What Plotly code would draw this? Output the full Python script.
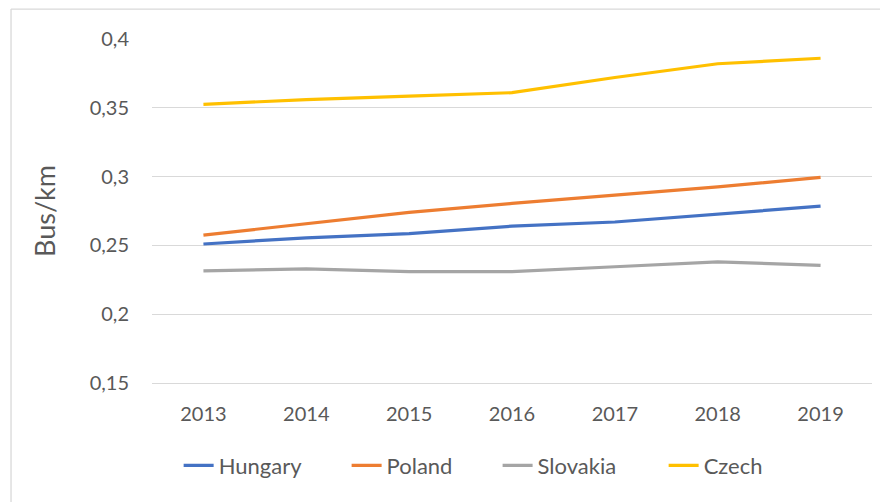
import plotly.graph_objects as go

years = ["2013", "2014", "2015", "2016", "2017", "2018", "2019"]
hungary = [0.251, 0.2555, 0.2585, 0.264, 0.267, 0.2725, 0.2785]
poland = [0.2575, 0.2655, 0.274, 0.2805, 0.2865, 0.2925, 0.2995]
slovakia = [0.2315, 0.233, 0.231, 0.231, 0.2345, 0.238, 0.2355]
czech = [0.3525, 0.356, 0.3585, 0.361, 0.372, 0.382, 0.386]

series = [
    ("Hungary", hungary, "#4472C4"),
    ("Poland", poland, "#ED7D31"),
    ("Slovakia", slovakia, "#A5A5A5"),
    ("Czech", czech, "#FFC000"),
]

FONT = "Lato"
TXT = "#595959"

legend_ids = ["legend", "legend2", "legend3", "legend4"]
legend_x = [0.037, 0.2703, 0.48, 0.7106]

fig = go.Figure()
for (name, vals, col), lid in zip(series, legend_ids):
    fig.add_trace(go.Scatter(x=years, y=vals, name=name, mode="lines",
                             legend=lid,
                             line=dict(color=col, width=3.2)))

legend_layout = {}
for lid, lx in zip(legend_ids, legend_x):
    legend_layout[lid] = dict(orientation="h", x=lx, xanchor="left", y=-0.24,
                              yanchor="middle",
                              font=dict(family=FONT, size=22, color=TXT),
                              bgcolor="rgba(0,0,0,0)")

fig.update_layout(
    width=880, height=494,
    margin=dict(l=144, r=16, t=31, b=119),
    paper_bgcolor="white", plot_bgcolor="white",
    separators=", ",
    font=dict(family=FONT, color=TXT, size=20),
    showlegend=True,
    xaxis=dict(type="category", range=[-0.5, 6.5], showgrid=False,
               showline=True, linecolor="#D9D9D9", linewidth=1.3,
               ticks="", tickfont=dict(family=FONT, size=20, color=TXT),
               ticklabelstandoff=13, zeroline=False),
    yaxis=dict(range=[0.15, 0.4], dtick=0.05, tick0=0.15,
               showgrid=True, gridcolor="#D9D9D9", gridwidth=1.3,
               showline=False, zeroline=False, ticks="",
               tickfont=dict(family=FONT, size=20, color=TXT),
               ticklabelstandoff=22,
               title=dict(text="Bus/km", font=dict(family=FONT, size=27, color=TXT),
                          standoff=26)),
    shapes=[
        dict(type="line", xref="paper", yref="paper", x0=-0.1958, x1=-0.1958,
             y0=1.087, y1=-0.4, line=dict(color="#D9D9D9", width=1.3)),
        dict(type="line", xref="paper", yref="paper", x0=-0.1958, x1=1.1,
             y0=1.087, y1=1.087, line=dict(color="#D9D9D9", width=1.3)),
    ],
    **legend_layout,
)

fig.write_html("out.html")
